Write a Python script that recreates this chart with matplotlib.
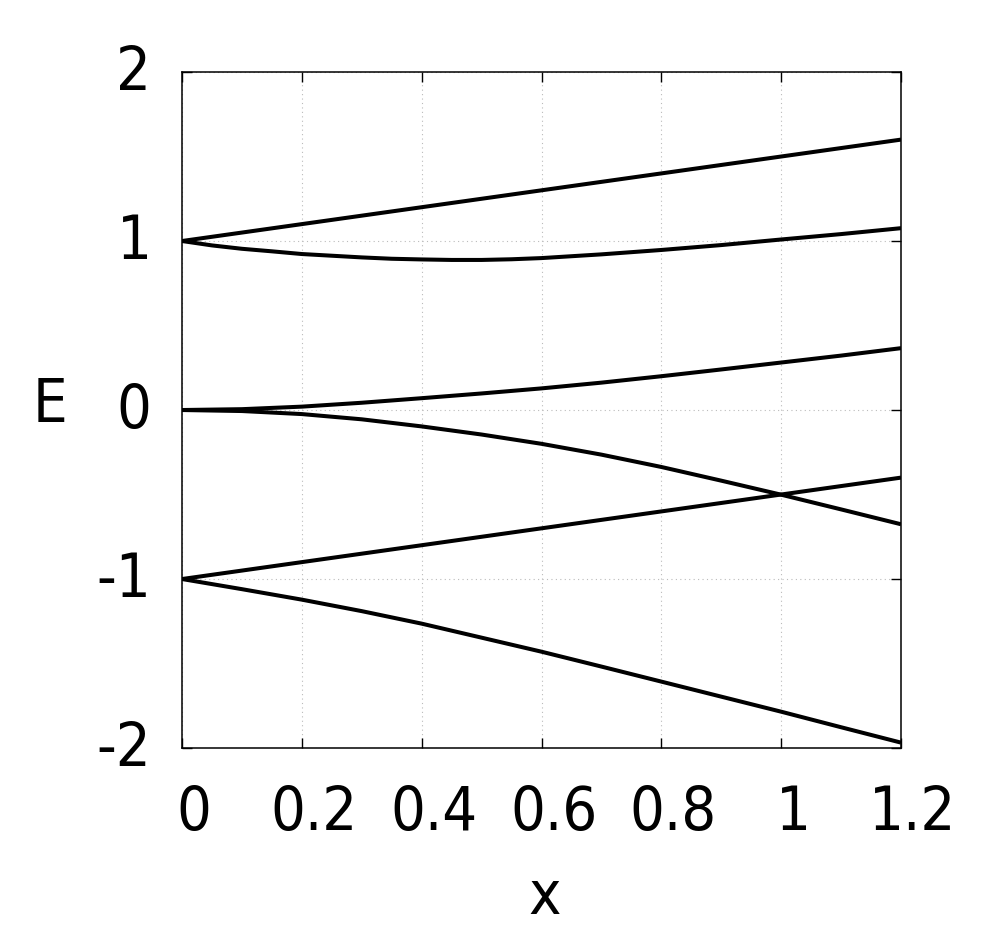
import matplotlib
matplotlib.use("Agg")
import matplotlib.pyplot as plt
import matplotlib.transforms as mtransforms

x = [0.0, 0.1, 0.2, 0.3, 0.4, 0.5, 0.6, 0.7, 0.8, 0.9, 1.0, 1.1, 1.2]
x2 = [0.0, 0.05, 0.1, 0.15, 0.2, 0.25, 0.3, 0.35, 0.4, 0.45, 0.5, 0.55, 0.6,
      0.7, 0.8, 0.9, 1.0, 1.1, 1.2]

band1 = [1.0, 1.05, 1.10, 1.15, 1.20, 1.25, 1.30, 1.35, 1.40, 1.45, 1.50, 1.55, 1.60]
band2 = [1.0, 0.974, 0.954, 0.939, 0.923, 0.913, 0.903, 0.895, 0.891, 0.888, 0.888, 0.892, 0.899,
         0.921, 0.947, 0.976, 1.009, 1.041, 1.076]
band3 = [0.0, 0.005, 0.02, 0.043, 0.07, 0.098, 0.128, 0.162, 0.20, 0.24, 0.281, 0.322, 0.366]
band4 = [0.0, -0.006, -0.024, -0.055, -0.097, -0.145, -0.20, -0.264, -0.337, -0.418, -0.501, -0.588, -0.676]
band5 = [-1.0, -0.95, -0.90, -0.85, -0.80, -0.75, -0.70, -0.65, -0.60, -0.55, -0.50, -0.45, -0.40]
band6 = [-1.0, -1.06, -1.122, -1.19, -1.264, -1.347, -1.43, -1.518, -1.607, -1.696, -1.785, -1.877, -1.968]

xticks = [0, 0.2, 0.4, 0.6, 0.8, 1.0, 1.2]
xticklabels = ["0", "0.2", "0.4", "0.6", "0.8", "1", "1.2"]
yticks = [-2, -1, 0, 1, 2]
yticklabels = ["-2", "-1", "0", "1", "2"]

plt.rcParams['font.family'] = ['DejaVu Sans']
FP = dict(fontsize=44, fontstretch='condensed')

fig = plt.figure(figsize=(10, 9.5), dpi=100)
ax = fig.add_axes([0.182, 0.2126, 0.719, 0.7116])

for xs, b in ((x, band1), (x2, band2), (x, band3), (x, band4), (x, band5), (x, band6)):
    ax.plot(xs, b, color='black', lw=2.9, solid_joinstyle='round', solid_capstyle='butt', zorder=3)

ax.set_xlim(0, 1.2)
ax.set_ylim(-2, 2)
ax.set_xticks(xticks)
ax.set_xticklabels(xticklabels, **FP)
ax.set_yticks(yticks)
ax.set_yticklabels(yticklabels, **FP)

ax.tick_params(axis='both', which='major', direction='in', length=7, width=1.0,
               top=True, right=True)
ax.tick_params(axis='x', pad=26)
ax.tick_params(axis='y', pad=22)

for sp in ax.spines.values():
    sp.set_linewidth(1.1)

ax.grid(True, color='#bbbbbb', linestyle=(0, (1, 3)), linewidth=0.8, zorder=0)

dx = mtransforms.ScaledTranslation(12 / 100, 0, fig.dpi_scale_trans)
for lab in ax.get_xticklabels():
    lab.set_transform(lab.get_transform() + dx)
dy = mtransforms.ScaledTranslation(0, 5 / 100, fig.dpi_scale_trans)
for lab in ax.get_yticklabels():
    lab.set_transform(lab.get_transform() + dy)

fig.text(50 / 1000, 1 - 405 / 950, "E", ha='center', va='center', **FP)
fig.text(545 / 1000, 1 - 897 / 950, "x", ha='center', va='center', **FP)

fig.savefig("out.png", dpi=100)
